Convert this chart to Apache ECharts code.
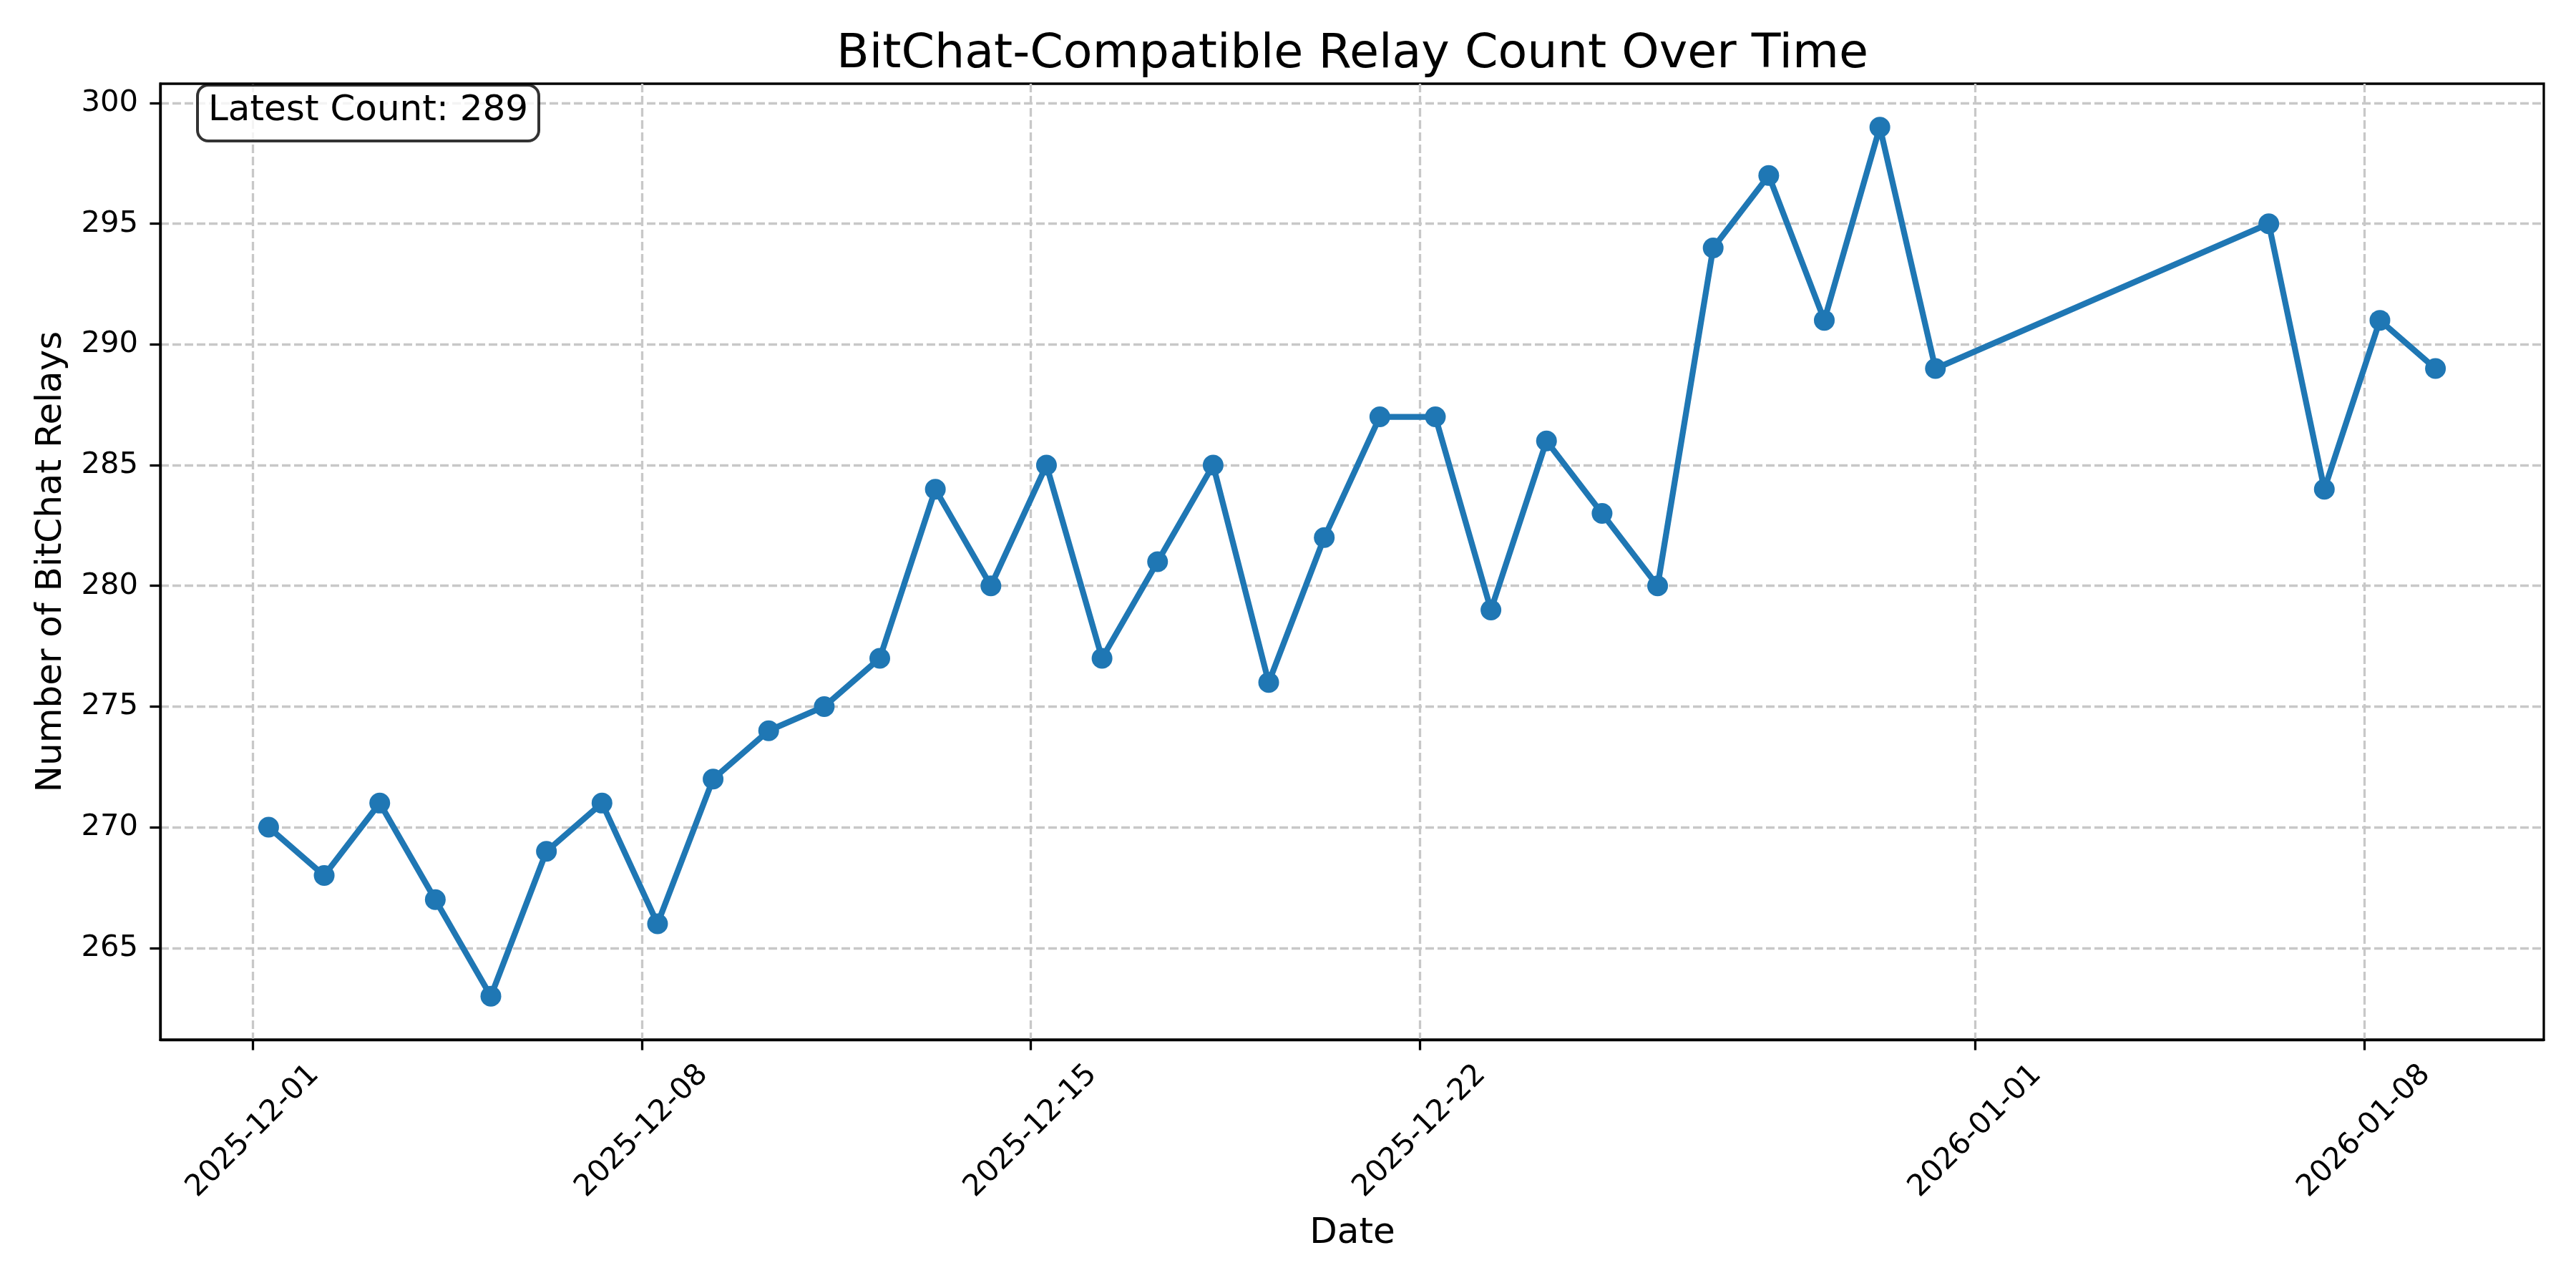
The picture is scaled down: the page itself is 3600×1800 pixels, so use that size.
<!DOCTYPE html>
<html>
<head>
<meta charset="utf-8">
<script src="https://cdn.jsdelivr.net/npm/echarts@6/dist/echarts.min.js"></script>
<style>
  html, body { margin: 0; padding: 0; background: #fff; }
  #main { width: 3600px; height: 1800px; }
</style>
</head>
<body>
<div id="main"></div>
<script>
// data (one reading per day, taken in the morning)
var dates = [
    '2025-12-01', '2025-12-02', '2025-12-03', '2025-12-04', '2025-12-05', '2025-12-06', '2025-12-07',
    '2025-12-08', '2025-12-09', '2025-12-10', '2025-12-11', '2025-12-12', '2025-12-13', '2025-12-14',
    '2025-12-15', '2025-12-16', '2025-12-17', '2025-12-18', '2025-12-19', '2025-12-20', '2025-12-21',
    '2025-12-22', '2025-12-23', '2025-12-24', '2025-12-25', '2025-12-26', '2025-12-27', '2025-12-28',
    '2025-12-29', '2025-12-30', '2025-12-31',
    '2026-01-06', '2026-01-07', '2026-01-08', '2026-01-09'
];
var relayCounts = [
    270, 268, 271, 267, 263, 269, 271,
    266, 272, 274, 275, 277, 284, 280,
    285, 277, 281, 285, 276, 282, 287,
    287, 279, 286, 283, 280, 294, 297,
    291, 299, 289,
    295, 284, 291, 289
];
var sampleTime = 'T06:45:00Z';
var xTickDates = ['2025-12-01', '2025-12-08', '2025-12-15', '2025-12-22', '2026-01-01', '2026-01-08'];
var yTicks = [265, 270, 275, 280, 285, 290, 295, 300];

var FONT = 'DejaVu Sans';
var BLUE = '#1f77b4';

var points = dates.map(function (d, i) {
    return [Date.parse(d + sampleTime), relayCounts[i]];
});
var xTicks = xTickDates.map(function (d) { return Date.parse(d + 'T00:00:00Z'); });

// matplotlib style 5% margins
var xFirst = points[0][0], xLast = points[points.length - 1][0];
var xPad = (xLast - xFirst) * 0.05;
var yLo = Math.min.apply(null, relayCounts), yHi = Math.max.apply(null, relayCounts);
var yPad = (yHi - yLo) * 0.05;

function pad2(n) { return (n < 10 ? '0' : '') + n; }
function fmtDate(v) {
    var d = new Date(v);
    return d.getUTCFullYear() + '-' + pad2(d.getUTCMonth() + 1) + '-' + pad2(d.getUTCDate());
}

var gridLine = { show: true, lineStyle: { color: '#c8c8c8', width: 3.3, type: [12, 5] } };

var myChart = echarts.init(document.getElementById('main'));
var option = {
    animation: false,
    backgroundColor: '#ffffff',
    grid: {
        left: 224, right: 45, top: 117, bottom: 347,
        show: true, borderColor: '#000', borderWidth: 3.3, backgroundColor: 'transparent'
    },
    xAxis: {
        // timestamps on a value axis, labels formatted as dates
        type: 'value',
        min: xFirst - xPad,
        max: xLast + xPad,
        axisLine: { show: true, lineStyle: { color: '#000', width: 3.3 } },
        axisTick: { show: true, customValues: xTicks, length: 14.6, lineStyle: { color: '#000', width: 3.3 } },
        axisLabel: {
            customValues: xTicks,
            formatter: function (v) { return fmtDate(v); },
            rotate: 45,
            align: 'center',
            verticalAlign: 'middle',
            margin: 128,
            color: '#000',
            fontFamily: FONT,
            fontSize: 41.7
        },
        splitLine: gridLine
    },
    yAxis: {
        type: 'value',
        min: yLo - yPad,
        max: yHi + yPad,
        axisLine: { show: true, lineStyle: { color: '#000', width: 3.3 } },
        axisTick: { show: true, customValues: yTicks, length: 14.6, lineStyle: { color: '#000', width: 3.3 } },
        axisLabel: {
            customValues: yTicks,
            margin: 31,
            color: '#000',
            fontFamily: FONT,
            fontSize: 41.7
        },
        splitLine: gridLine
    },
    series: [{
        name: 'BitChat Relays',
        type: 'line',
        data: points,
        showAllSymbol: true,
        symbol: 'circle',
        symbolSize: 29,
        lineStyle: { color: BLUE, width: 8.3 },
        itemStyle: { color: BLUE, borderWidth: 0 },
        z: 3
    }],
    graphic: [
        {
            type: 'text', x: 1890, y: 77,
            style: {
                text: 'BitChat-Compatible Relay Count Over Time',
                fontFamily: FONT, fontSize: 66.7, fill: '#000',
                align: 'center', verticalAlign: 'middle'
            }
        },
        {
            type: 'text', x: 1890, y: 1724,
            style: {
                text: 'Date', fontFamily: FONT, fontSize: 50, fill: '#000',
                align: 'center', verticalAlign: 'middle'
            }
        },
        {
            type: 'text', x: 72, y: 785, rotation: Math.PI / 2,
            style: {
                text: 'Number of BitChat Relays', fontFamily: FONT, fontSize: 50, fill: '#000',
                align: 'center', verticalAlign: 'middle'
            }
        },
        {
            type: 'rect', z: 10,
            shape: { x: 276, y: 119, width: 477, height: 78, r: 15 },
            style: { fill: 'rgba(255,255,255,0.8)', stroke: 'rgba(0,0,0,0.8)', lineWidth: 4 }
        },
        {
            type: 'text', z: 11, x: 291, y: 155,
            style: {
                text: 'Latest Count: ' + relayCounts[relayCounts.length - 1],
                fontFamily: FONT, fontSize: 50, fill: '#000',
                align: 'left', verticalAlign: 'middle'
            }
        }
    ]
};
myChart.setOption(option);
</script>
</body>
</html>
